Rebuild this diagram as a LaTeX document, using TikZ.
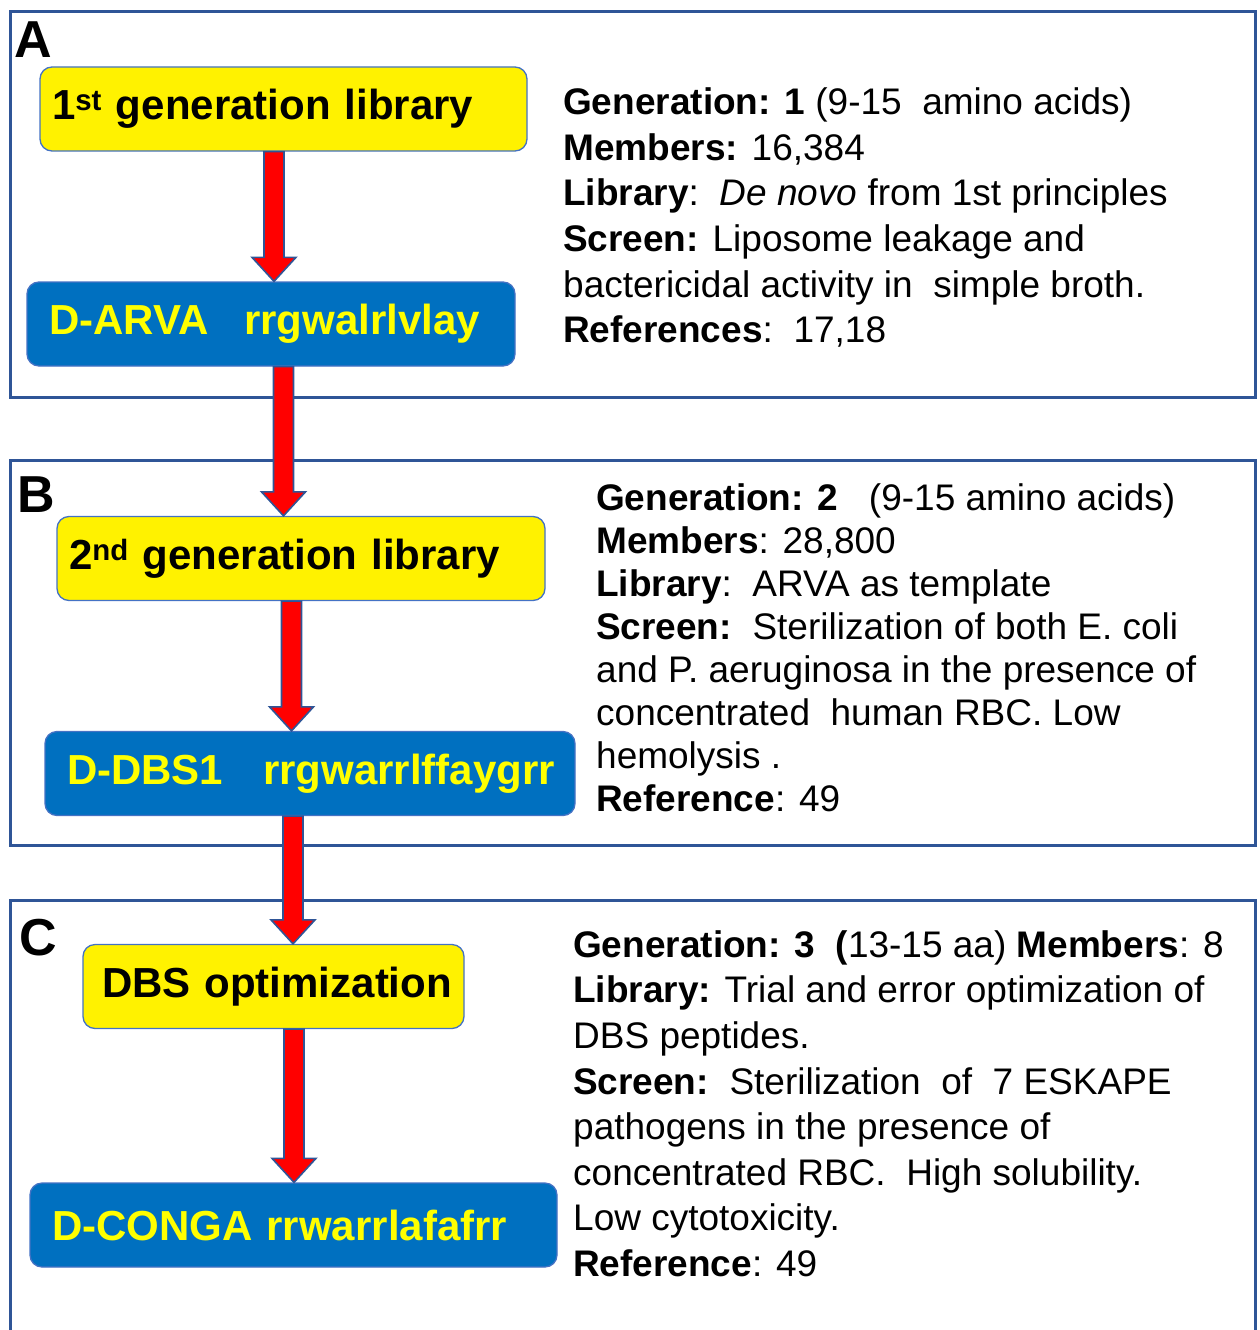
\documentclass[tikz,border=0pt]{standalone}
\usepackage{fontspec}
\setmainfont{Liberation Sans}
\usetikzlibrary{calc}

\definecolor{panelblue}{HTML}{2F5597}
\definecolor{edgeblue}{HTML}{4472C4}
\definecolor{pepblue}{HTML}{0070C0}
\definecolor{textyellow}{HTML}{FFFF00}

% red block arrow from node #2 down to node #3, at x = #1
\newcommand{\flowarrow}[3]{%
  \draw [redarrow] let \p1 = (#1,0 |- #2.south), \p2 = (#1,0 |- #3.north) in
    (\x1-10,\y1) -- (\x1+10,\y1) -- (\x1+10,\y2+24) -- (\x1+22,\y2+24)
    -- (\x1,\y2) -- (\x1-22,\y2+24) -- (\x1-10,\y2+24) -- cycle;}

\begin{document}
\begin{tikzpicture}[x=1pt, y=-1pt,
    panel/.style={draw=panelblue, line width=3pt},
    tag/.style={font=\fontsize{52}{60}\selectfont\bfseries, inner sep=0pt, anchor=base west},
    libbox/.style={draw=edgeblue, fill=yellow, line width=1.3pt, rounded corners=12pt,
      font=\fontsize{42}{50}\selectfont\bfseries, text=black, align=left,
      inner xsep=12pt, inner ysep=0pt, minimum height=84pt},
    pepbox/.style={libbox, fill=pepblue, text=textyellow, inner xsep=22pt},
    info/.style={font=\fontsize{37}{45.6}\selectfont, align=left, inner sep=0pt, anchor=north west},
    redarrow/.style={draw=panelblue, fill=red, line width=1.6pt, line join=miter}]

\useasboundingbox (0,0) rectangle (1259,1330);

% panels
\draw [panel] (10,12) rectangle (1255,397);
\draw [panel] (10,460) rectangle (1255,845);
\draw [panel] (10,1340) -- (10,900) -- (1255,900) -- (1255,1340);

\node [tag] (tagA) at (14,58) {A};
\node [tag] (tagB) at (17,512) {B};
\node [tag] (tagC) at (19,955) {C};

% boxes
\node [libbox, text width=463pt] (lib1) at (283.5,109) {\mbox{1\textsuperscript{st} generation library}};
\node [pepbox, text width=444pt] (pep1) at (271,324) {\mbox{D-ARVA\hspace{0.85em}rrgwalrlvlay}};
\node [libbox, text width=464pt] (lib2) at (301,558.5) {\mbox{2\textsuperscript{nd} generation library}};
\node [pepbox, text width=486pt] (pep2) at (310,773.5) {\mbox{D-DBS1\hspace{0.95em}rrgwarrlffaygrr}};
\node [libbox, text width=343pt, inner xsep=19pt] (lib3) at (273.5,986.5) {\mbox{DBS optimization}};
\node [pepbox, text width=483pt] (pep3) at (293.5,1225) {\mbox{D-CONGA rrwarrlafafrr}};

% arrows
\flowarrow{274}{lib1}{pep1}
\flowarrow{283.5}{pep1}{lib2}
\flowarrow{291.5}{lib2}{pep2}
\flowarrow{293}{pep2}{lib3}
\flowarrow{294}{lib3}{pep3}

% descriptions
\node [info] (infoA) at (563,82.6) {\strut\textbf{Generation: 1} (9-15\ \ amino acids)\\
  \textbf{Members:} 16,384\\
  \textbf{Library}:\ \ \textit{De novo} from 1st principles\\
  \textbf{Screen:} Liposome leakage and\\
  bactericidal activity in\ \ simple broth.\\
  \textbf{References}:\ \ 17,18};
\node [info, font=\fontsize{37}{43}\selectfont] (infoB) at (596,480.4) {\strut\textbf{Generation: 2}\ \ \ (9-15 amino acids)\\
  \textbf{Members}: 28,800\\
  \textbf{Library}:\ \ ARVA as template\\
  \textbf{Screen:}\ \ Sterilization of both E. coli\\
  and P. aeruginosa in the presence of\\
  concentrated\ \ human RBC. Low\\
  hemolysis .\\
  \textbf{Reference}: 49};
\node [info] (infoC) at (573,925.1) {\strut\textbf{Generation: 3}\ \ \textbf{(}13-15 aa) \textbf{Members}: 8\\
  \textbf{Library:} Trial and error optimization of\\
  DBS peptides.\\
  \textbf{Screen:}\ \ Sterilization\ \ of\ \ 7 ESKAPE\\
  pathogens in the presence of\\
  concentrated RBC.\ \ High solubility.\\
  Low cytotoxicity.\\
  \textbf{Reference}: 49};

\end{tikzpicture}
\end{document}
